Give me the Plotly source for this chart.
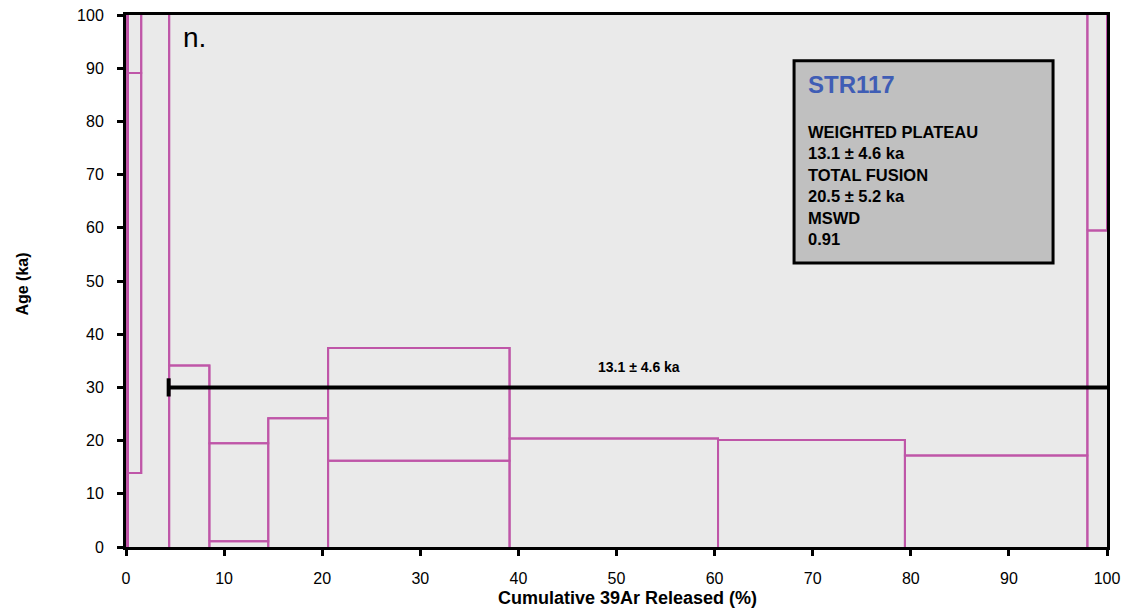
import plotly.graph_objects as go

# ---- data ----
step_edges = [0.0, 0.2, 1.55, 4.4, 8.5, 14.5, 20.6, 39.1, 60.35, 79.4, 98.0, 100.0]
age_low = [-80.0, 13.9, 150.0, -40.0, 1.1, -20.0, 16.2, -15.0, -18.0, -20.0, 59.5]
age_high = [180.0, 89.1, 400.0, 34.1, 19.5, 24.2, 37.4, 20.4, 20.1, 17.2, 160.0]

plateau_start = 4.35
plateau_end = 100.0
plateau_line_y = 30.0
plateau_label = "13.1 ± 4.6 ka"

x_ticks = list(range(0, 101, 10))
y_ticks = list(range(0, 101, 10))

sample_name = "STR117"
info_lines = ["WEIGHTED PLATEAU", "13.1 ± 4.6 ka", "TOTAL FUSION", "20.5 ± 5.2 ka", "MSWD", "0.91"]
panel_letter = "n."

MAG = "#BF56A8"
FONT = "Liberation Sans, Arial, sans-serif"

# ---- build step boxes and envelope paths ----
bx, by = [], []
for i in range(len(age_low)):
    x0, x1 = step_edges[i], step_edges[i + 1]
    lo, hi = age_low[i], age_high[i]
    bx += [x0, x1, x1, x0, x0, None]
    by += [lo, lo, hi, hi, lo, None]

ux, uy, lx, ly = [], [], [], []
for i in range(len(age_low)):
    x0, x1 = step_edges[i], step_edges[i + 1]
    ux += [x0, x1]; uy += [age_high[i], age_high[i]]
    lx += [x0, x1]; ly += [age_low[i], age_low[i]]

fig = go.Figure()
for xs, ys in ((bx, by), (ux, uy), (lx, ly)):
    fig.add_trace(go.Scatter(x=xs, y=ys, mode="lines", line=dict(color=MAG, width=2),
                             hoverinfo="skip", showlegend=False))

# plateau line
fig.add_trace(go.Scatter(x=[plateau_start, plateau_end], y=[plateau_line_y, plateau_line_y],
                         mode="lines", line=dict(color="black", width=4),
                         hoverinfo="skip", showlegend=False))
fig.add_trace(go.Scatter(x=[plateau_start], y=[plateau_line_y], mode="markers",
                         marker=dict(symbol="line-ns", size=13, line=dict(color="black", width=4)),
                         hoverinfo="skip", showlegend=False))

fig.add_annotation(x=52.3, y=plateau_line_y, yshift=20, xanchor="center", yanchor="middle",
                   text="<b>" + plateau_label + "</b>", showarrow=False,
                   font=dict(family=FONT, size=14, color="black"))

# info box
fig.add_shape(type="rect", xref="x", yref="y", x0=68.1, x1=94.5, y0=53.4, y1=91.4,
              fillcolor="#C0C0C0", line=dict(color="black", width=3), layer="above")
fig.add_annotation(x=69.3, y=87.0, xanchor="left", yanchor="middle", showarrow=False,
                   text="<b>" + sample_name + "</b>",
                   font=dict(family=FONT, size=24, color="#3F5DB5"))
fig.add_annotation(x=69.3, y=80.0, xanchor="left", yanchor="top", showarrow=False, align="left",
                   text="<br>".join("<b>" + s + "</b>" for s in info_lines),
                   font=dict(family=FONT, size=16.5, color="black"))

fig.add_annotation(x=5.6, y=95.8, xanchor="left", yanchor="middle", showarrow=False,
                   text=panel_letter, font=dict(family=FONT, size=28, color="black"))

# axis titles
fig.add_annotation(xref="paper", yref="paper", x=0.511, y=-0.095, xanchor="center", yanchor="middle",
                   showarrow=False, text="<b>Cumulative 39Ar Released (%)</b>",
                   font=dict(family=FONT, size=18, color="black"))
fig.add_annotation(xref="paper", yref="paper", x=-0.1056, y=0.494, xanchor="center", yanchor="middle",
                   showarrow=False, textangle=-90,
                   text="<b>Age (ka)</b>", font=dict(family=FONT, size=16, color="black"))

axis_common = dict(showgrid=False, zeroline=False, showline=True, linecolor="black", linewidth=3,
                   mirror=True, ticks="outside", ticklen=6, tickwidth=3, tickcolor="black",
                   automargin=False,
                   tickfont=dict(family=FONT, size=16, color="black"))
fig.update_xaxes(range=[0, 100], tickvals=x_ticks, ticklabelstandoff=9, **axis_common)
fig.update_yaxes(range=[0, 100], tickvals=y_ticks, ticklabelstandoff=10, **axis_common)

fig.update_layout(width=1127, height=615, margin=dict(l=126, r=20, t=15, b=68),
                  plot_bgcolor="#EAEAEA", paper_bgcolor="white", showlegend=False,
                  font=dict(family=FONT))

fig.write_html("out.html")
